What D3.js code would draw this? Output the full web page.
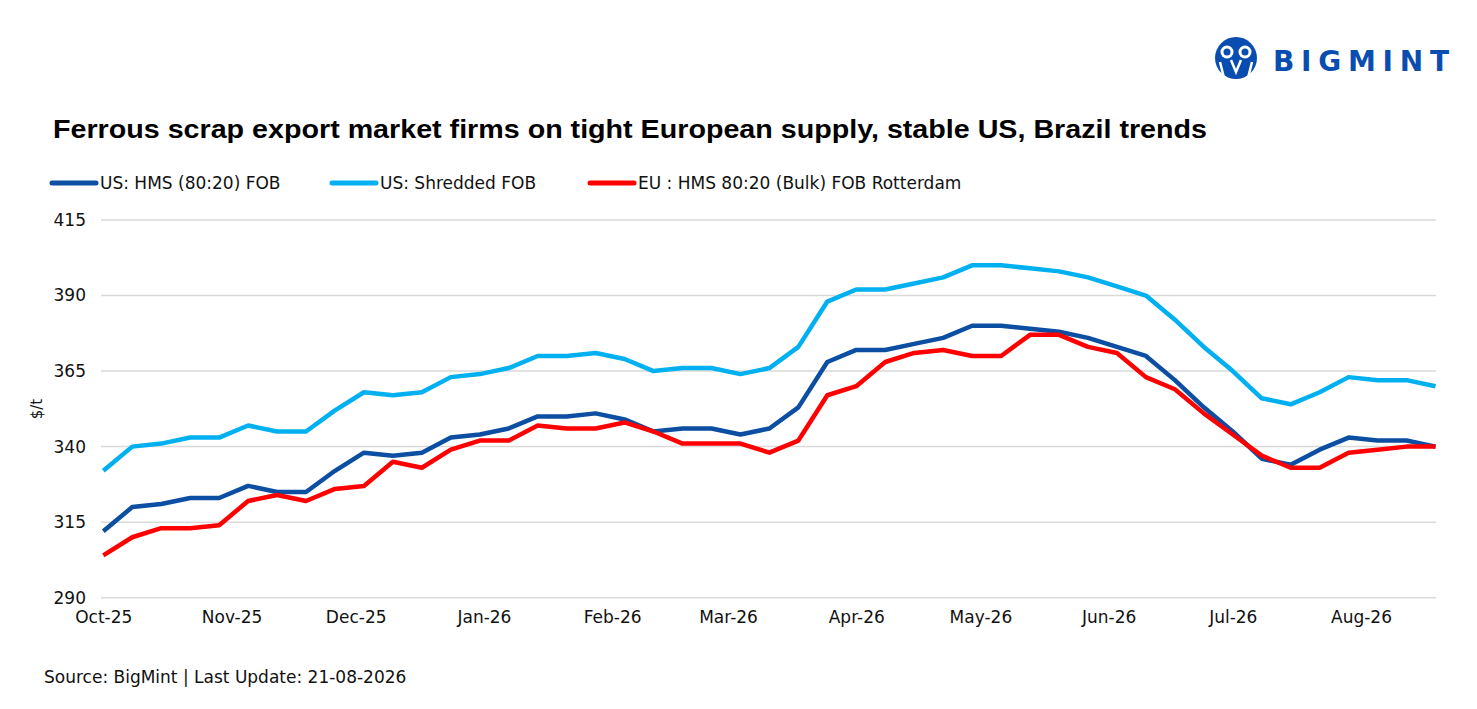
<!DOCTYPE html>
<html>
<head>
<meta charset="utf-8">
<script src="https://cdn.jsdelivr.net/npm/d3@7"></script>
<style>
  body { margin: 0; background: #fff; }
  svg { display: block; font-family: "DejaVu Sans", sans-serif; }
</style>
</head>
<body>
<div id="chart"></div>
<script>
// weekly dates (Fridays)
const dates = [
  "2025-10-03","2025-10-10","2025-10-17","2025-10-24","2025-10-31",
  "2025-11-07","2025-11-14","2025-11-21","2025-11-28",
  "2025-12-05","2025-12-12","2025-12-19","2025-12-26",
  "2026-01-02","2026-01-09","2026-01-16","2026-01-23","2026-01-30",
  "2026-02-06","2026-02-13","2026-02-20","2026-02-27",
  "2026-03-06","2026-03-13","2026-03-20","2026-03-27",
  "2026-04-03","2026-04-10","2026-04-17","2026-04-24",
  "2026-05-01","2026-05-08","2026-05-15","2026-05-22","2026-05-29",
  "2026-06-05","2026-06-12","2026-06-19","2026-06-26",
  "2026-07-03","2026-07-10","2026-07-17","2026-07-24","2026-07-31",
  "2026-08-07","2026-08-14","2026-08-21"
]

const usHms = [312,320,321,323,323,327,325,325,332,338,337,338,343,344,346,350,350,351,349,345,346,346,344,346,353,368,372,372,374,376,380,380,379,378,376,373,370,362,353,345,336,334,339,343,342,342,340]
const usShredded = [332,340,341,343,343,347,345,345,352,358,357,358,363,364,366,370,370,371,369,365,366,366,364,366,373,388,392,392,394,396,400,400,399,398,396,393,390,382,373,365,356,354,358,363,362,362,360]
const euHms = [304,310,313,313,314,322,324,322,326,327,335,333,339,342,342,347,346,346,348,345,341,341,341,338,342,357,360,368,371,372,370,370,377,377,373,371,363,359,351,344,337,333,333,338,339,340,340]

const yTicks = [290, 315, 340, 365, 390, 415]
// month labels sit on the 3rd, like the axis start
const xTicks = ["2025-10-03","2025-11-03","2025-12-03","2026-01-03","2026-02-03","2026-03-03",
  "2026-04-03","2026-05-03","2026-06-03","2026-07-03","2026-08-03"]

const series = [
  { name: "US: HMS (80:20) FOB", values: usHms, color: "#0B4EA2" },
  { name: "US: Shredded FOB", values: usShredded, color: "#00B0F0" },
  { name: "EU : HMS 80:20 (Bulk) FOB Rotterdam", values: euHms, color: "#FF0000" }
]

const width = 1477
const height = 709
const parse = d3.timeParse("%Y-%m-%d")
const dateObjs = dates.map(parse)
const labelFont = "DejaVu Sans, sans-serif"

const svg = d3.select("#chart")
  .append("svg")
  .attr("width", width)
  .attr("height", height)

const x = d3.scaleTime()
  .domain(d3.extent(dateObjs))
  .range([103.3, 1435.5])

const y = d3.scaleLinear()
  .domain([290, 415])
  .range([597.7, 220])

// gridlines
svg.append("g")
  .selectAll("line")
  .data(yTicks)
  .enter().append("line")
  .attr("x1", 101)
  .attr("x2", 1436)
  .attr("y1", d => y(d))
  .attr("y2", d => y(d))
  .attr("stroke", "#d9d9d9")
  .attr("stroke-width", 1.5)

// y axis labels
const yAxis = svg.append("g")
  .attr("transform", "translate(94,0)")
  .call(d3.axisLeft(y).tickValues(yTicks).tickSize(0).tickPadding(8))
yAxis.select(".domain").remove()
yAxis.selectAll("text")
  .attr("font-size", "17px")
  .attr("font-family", labelFont)
  .attr("fill", "#111")

// x axis labels
const xAxis = svg.append("g")
  .attr("transform", "translate(0,607)")
  .call(d3.axisBottom(x)
    .tickValues(xTicks.map(parse))
    .tickFormat(d3.timeFormat("%b-%y"))
    .tickSize(0)
    .tickPadding(4))
xAxis.select(".domain").remove()
xAxis.selectAll("text")
  .attr("font-size", "17px")
  .attr("font-family", labelFont)
  .attr("fill", "#111")

svg.append("text")
  .attr("transform", "translate(42,409) rotate(-90)")
  .attr("text-anchor", "middle")
  .attr("font-size", "15px")
  .attr("fill", "#111")
  .text("$/t")

// lines
const line = d3.line()
  .x((d, i) => x(dateObjs[i]))
  .y(d => y(d))

series.forEach(s => {
  svg.append("path")
    .datum(s.values)
    .attr("d", line)
    .attr("fill", "none")
    .attr("stroke", s.color)
    .attr("stroke-width", 4.5)
    .attr("stroke-linejoin", "round")
})

// title
svg.append("text")
  .attr("x", 53)
  .attr("y", 138)
  .attr("font-size", "25px")
  .attr("font-weight", "bold")
  .attr("font-family", "Liberation Sans, Arial, sans-serif")
  .attr("fill", "#000")
  .attr("textLength", 1154)
  .attr("lengthAdjust", "spacingAndGlyphs")
  .text("Ferrous scrap export market firms on tight European supply, stable US, Brazil trends")

// legend
const legendX = [52, 332, 590]
series.forEach((s, i) => {
  const g = svg.append("g").attr("transform", `translate(${legendX[i]},183)`)
  g.append("line")
    .attr("x1", 0).attr("x2", 44)
    .attr("stroke", s.color)
    .attr("stroke-width", 5)
    .attr("stroke-linecap", "round")
  g.append("text")
    .attr("x", 48)
    .attr("y", 6)
    .attr("font-size", "17px")
    .attr("fill", "#111")
    .text(s.name)
})

// source
svg.append("text")
  .attr("x", 44)
  .attr("y", 683)
  .attr("font-size", "17px")
  .attr("fill", "#111")
  .text("Source: BigMint | Last Update: 21-08-2026")

// logo
const logo = svg.append("g").attr("transform", "translate(1236,58)")
const logoBlue = "#0A4DB0"
logo.append("circle").attr("r", 21).attr("fill", logoBlue)
;[-9, 9].forEach(dx => {
  logo.append("circle").attr("cx", dx).attr("cy", -6).attr("r", 6.5).attr("fill", "#fff")
  logo.append("circle").attr("cx", dx).attr("cy", -6).attr("r", 3.5).attr("fill", logoBlue)
})
logo.append("path")
  .attr("d", "M-16,4 L-12,20 M16,4 L12,20 M-5,2 L0,14 L5,2")
  .attr("stroke", "#fff")
  .attr("stroke-width", 2.5)
  .attr("fill", "none")
svg.append("text")
  .attr("x", 1273)
  .attr("y", 71)
  .attr("font-size", "28px")
  .attr("font-weight", "bold")
  .attr("font-family", "DejaVu Sans, sans-serif")
  .attr("fill", logoBlue)
  .attr("textLength", 176)
  .attr("lengthAdjust", "spacing")
  .text("BIGMINT")
</script>
</body>
</html>
